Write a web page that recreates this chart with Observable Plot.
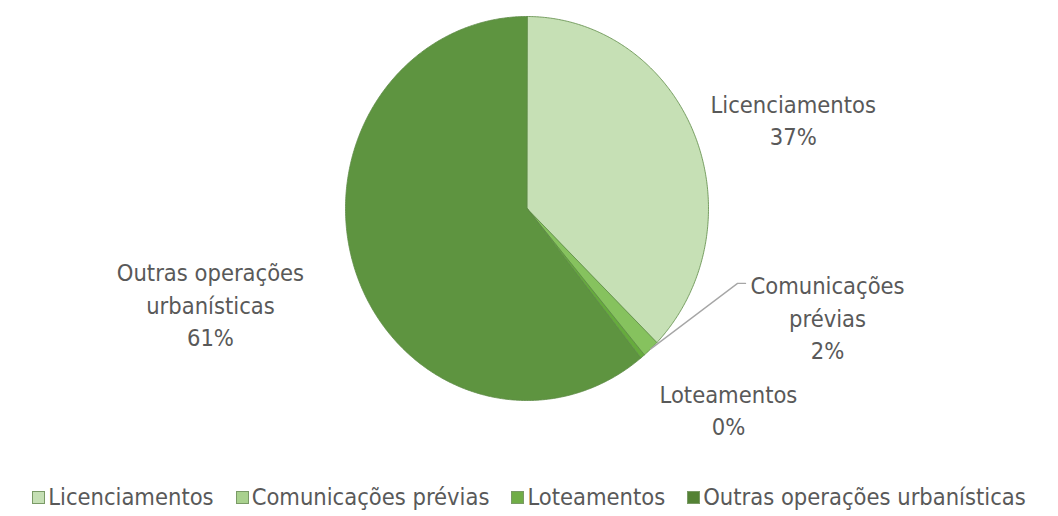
<!DOCTYPE html>
<html><head><meta charset="utf-8">
<script src="https://cdn.jsdelivr.net/npm/d3@7"></script>
<script src="https://cdn.jsdelivr.net/npm/@observablehq/plot@0.6"></script>
<style>
body{margin:0;background:#fff;font-family:"Liberation Sans Narrow","DejaVu Sans Condensed",sans-serif;}
#legend{display:flex;justify-content:center;align-items:center;gap:22px;padding-top:12px;font-size:23.5px;line-height:30px;color:#595959;}
#legend .item{display:flex;align-items:center;gap:3px;}
#legend .sw{width:13px;height:13px;border:1px solid #7a9a66;box-sizing:border-box;}
</style>
</head><body>
<div id="chart"></div>
<div id="legend"></div>
<script>
// ---- data ----
const categories = ["Licenciamentos", "Comunicações prévias", "Loteamentos", "Outras operações urbanísticas"];
const values = [37.3, 1.5, 0.4, 60.8];
const labelLines = [["Licenciamentos"], ["Comunicações", "prévias"], ["Loteamentos"], ["Outras operações", "urbanísticas"]];
const colors = ["#c6e0b5", "#86c25e", "#66ab3d", "#5e9440"];
const legendColors = ["#c5dfb4", "#a9d18e", "#70ad47", "#548235"];

// ---- layout (label anchors in pie-radius units) ----
const labelPos = [[1.467, 0.469], [1.656, -0.5625], [1.11, -1.042], [-1.744, -0.495]];
const leaderEnd = [[1.16, -0.39], [1.204, -0.39]];

const total = d3.sum(values);
const arcs = d3.pie().sort(null).startAngle(0).endAngle(2 * Math.PI)(values);

const slicePts = [];
arcs.forEach((a, i) => {
  const n = Math.max(2, Math.ceil((a.endAngle - a.startAngle) / (Math.PI / 360)));
  slicePts.push({name: categories[i], x: 0, y: 0});
  for (let k = 0; k <= n; k++) {
    const t = a.startAngle + (a.endAngle - a.startAngle) * k / n;
    slicePts.push({name: categories[i], x: Math.sin(t), y: Math.cos(t)});
  }
});

const labels = categories.map((c, i) => ({
  text: labelLines[i].join("\n") + "\n" + Math.round(values[i] / total * 100) + "%",
  x: labelPos[i][0], y: labelPos[i][1]
}));

const mid = (arcs[1].startAngle + arcs[1].endAngle) / 2;
const leader = [
  {x: Math.sin(mid), y: Math.cos(mid)},
  {x: leaderEnd[0][0], y: leaderEnd[0][1]},
  {x: leaderEnd[1][0], y: leaderEnd[1][1]}
];

const chart = Plot.plot({
  width: 1058, height: 470,
  marginLeft: 345, marginRight: 350, marginTop: 16, marginBottom: 70,
  x: {domain: [-1, 1], axis: null},
  y: {domain: [-1, 1], axis: null},
  color: {domain: categories, range: colors},
  style: {fontFamily: '"Liberation Sans Narrow","DejaVu Sans Condensed",sans-serif', background: "#fff"},
  marks: [
    Plot.line(slicePts, {x: "x", y: "y", z: "name", fill: "name", stroke: "#5d8a45", strokeWidth: 0.8, curve: "linear-closed"}),
    Plot.line(leader, {x: "x", y: "y", stroke: "#a6a6a6", strokeWidth: 1.3}),
    Plot.text(labels, {x: "x", y: "y", text: "text", fontSize: 23.5, fill: "#595959", lineHeight: 1.38, lineAnchor: "middle", textAnchor: "middle"})
  ]
});
document.getElementById("chart").appendChild(chart);

const lg = document.getElementById("legend");
categories.forEach((c, i) => {
  const it = document.createElement("div"); it.className = "item";
  const sw = document.createElement("span"); sw.className = "sw"; sw.style.background = legendColors[i];
  const tx = document.createElement("span"); tx.textContent = c;
  it.appendChild(sw); it.appendChild(tx); lg.appendChild(it);
});
</script>
</body></html>
